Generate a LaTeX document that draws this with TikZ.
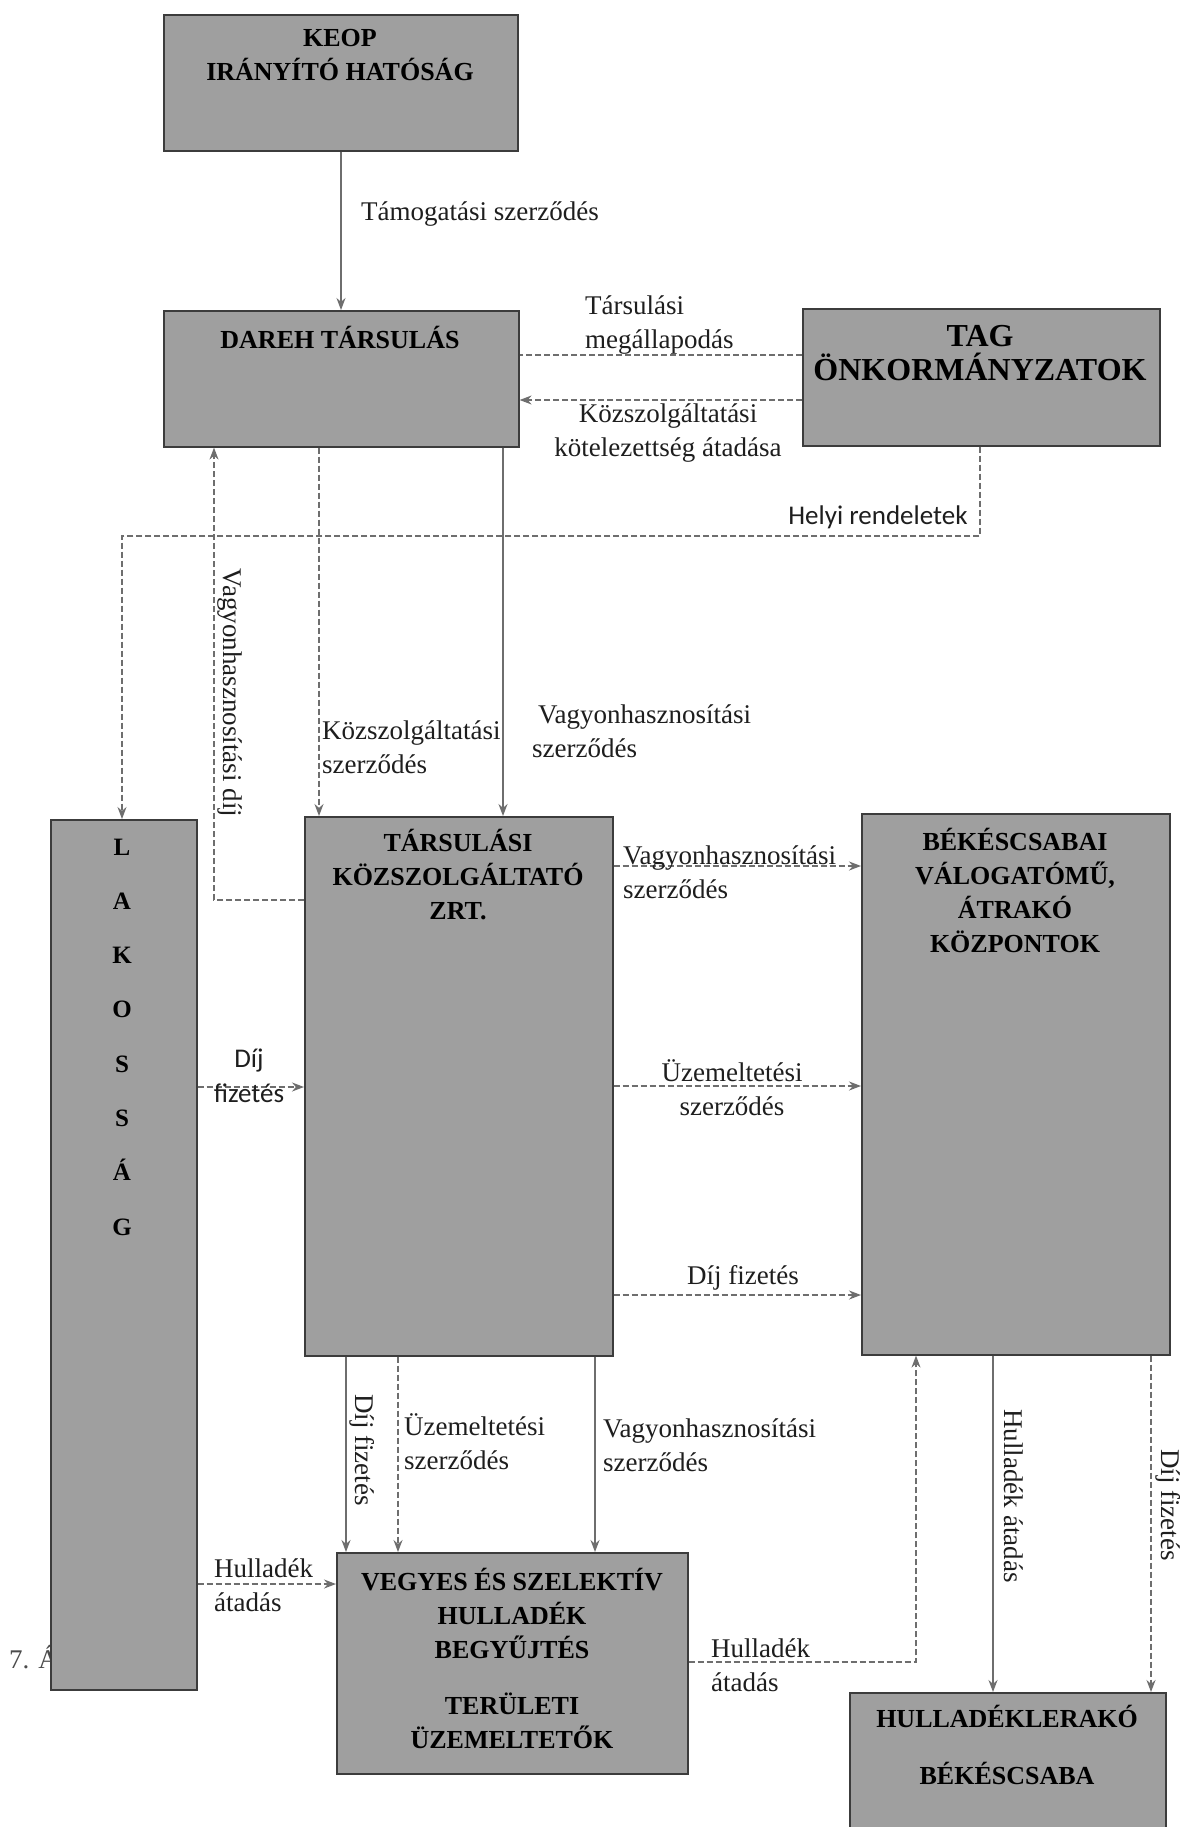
\documentclass[tikz,border=0pt]{standalone}
\usepackage{fontspec}
\setmainfont{Liberation Serif}
\newfontfamily\calib{Carlito}
\usetikzlibrary{arrows.meta}
\definecolor{boxfill}{HTML}{9F9F9F}
\definecolor{boxline}{HTML}{3C3C3C}
\definecolor{linegray}{HTML}{6E6E6E}
\definecolor{txt}{HTML}{1E1E1E}
\begin{document}
\begin{tikzpicture}[x=1pt,y=-1pt,
  box/.style={draw=boxline, line width=1.6pt, fill=boxfill, anchor=north west, inner sep=0pt},
  ttl/.style={font=\bfseries\fontsize{26}{34}\selectfont, align=center, text=black, inner sep=0pt},
  lbl/.style={font=\fontsize{27}{34}\selectfont, text=txt, inner sep=0pt},
  lsans/.style={font=\calib\fontsize{27}{35}\selectfont, text=txt, inner sep=0pt},
  conn/.style={draw=linegray, line width=1.3pt, -{Stealth[length=12pt,width=9pt]}},
  dconn/.style={conn, dash pattern=on 6pt off 3pt},
  dline/.style={draw=linegray, line width=1.3pt, dash pattern=on 6pt off 3pt}]
\useasboundingbox (0,0) rectangle (1186,1827);
\clip (0,0) rectangle (1186,1827);
\fill[white] (0,0) rectangle (1186,1827);

% helper coordinates
\coordinate (h1) at (0,355);
\coordinate (h2) at (0,400);
\coordinate (h3) at (0,536);
\coordinate (h4) at (0,900);
\coordinate (h5) at (0,1087);
\coordinate (h6) at (0,866);
\coordinate (h7) at (0,1086);
\coordinate (h8) at (0,1295);
\coordinate (h9) at (0,1584);
\coordinate (h10) at (0,1662);
\coordinate (v1) at (341,0);
\coordinate (v2) at (980,0);
\coordinate (v3) at (122,0);
\coordinate (v4) at (319,0);
\coordinate (v5) at (503,0);
\coordinate (v6) at (214,0);
\coordinate (v7) at (346,0);
\coordinate (v8) at (398,0);
\coordinate (v9) at (595,0);
\coordinate (v10) at (916,0);
\coordinate (v11) at (993,0);
\coordinate (v12) at (1151,0);

% caption fragment (covered by box)
\node[lbl, anchor=west, text=black!70] (cap) at (9,1657) {7. Á};

% boxes
\node[box, minimum width=354pt, minimum height=136pt] (keop) at (163,14) {};
\node[ttl] (keopT) at (340,55) {KEOP\\IRÁNYÍTÓ HATÓSÁG};
\node[box, minimum width=355pt, minimum height=136pt] (dareh) at (163,310) {};
\node[ttl] (darehT) at (340,337) {DAREH TÁRSULÁS};
\node[box, minimum width=357pt, minimum height=137pt] (tag) at (802,308) {};
\node[ttl, font=\bfseries\fontsize{32}{34}\selectfont] (tagT) at (980,353) {TAG\\ÖNKORMÁNYZATOK};
\node[box, minimum width=146pt, minimum height=870pt] (lak) at (50,819) {};
\node[ttl, font=\bfseries\fontsize{25}{54.3}\selectfont] (lakT) at (122,1037) {L\\A\\K\\O\\S\\S\\Á\\G};
\node[box, minimum width=308pt, minimum height=539pt] (zrt) at (304,816) {};
\node[ttl] (zrtT) at (458,875) {TÁRSULÁSI\\KÖZSZOLGÁLTATÓ\\ZRT.};
\node[box, minimum width=308pt, minimum height=541pt] (bek) at (861,813) {};
\node[ttl] (bekT) at (1015,890) {BÉKÉSCSABAI\\VÁLOGATÓMŰ,\\ÁTRAKÓ\\KÖZPONTOK};
\node[box, minimum width=351pt, minimum height=221pt] (vegyes) at (336,1552) {};
\node[ttl] (vegyesT) at (512,1658) {VEGYES ÉS SZELEKTÍV\\HULLADÉK\\BEGYŰJTÉS\\[22pt]TERÜLETI\\ÜZEMELTETŐK};
\node[box, minimum width=316pt, minimum height=160pt] (lerako) at (849,1692) {};
\node[ttl] (lerakoT) at (1007,1745) {HULLADÉKLERAKÓ\\[23pt]BÉKÉSCSABA};

% connectors
\draw[conn] (keop.south -| v1) -- (dareh.north -| v1);
\draw[dline] (tag.west |- h1) -- (dareh.east |- h1);
\draw[dconn] (tag.west |- h2) -- (dareh.east |- h2);
\draw[dconn] (tag.south -| v2) -- (v2 |- h3) -- (v3 |- h3) -- (lak.north -| v3);
\draw[dconn] (dareh.south -| v4) -- (zrt.north -| v4);
\draw[conn] (dareh.south -| v5) -- (zrt.north -| v5);
\draw[dconn] (zrt.west |- h4) -- (v6 |- h4) -- (dareh.south -| v6);
\draw[dconn] (lak.east |- h5) -- (zrt.west |- h5);
\draw[dconn] (zrt.east |- h6) -- (bek.west |- h6);
\draw[dconn] (zrt.east |- h7) -- (bek.west |- h7);
\draw[dconn] (zrt.east |- h8) -- (bek.west |- h8);
\draw[conn] (zrt.south -| v7) -- (vegyes.north -| v7);
\draw[dconn] (zrt.south -| v8) -- (vegyes.north -| v8);
\draw[conn] (zrt.south -| v9) -- (vegyes.north -| v9);
\draw[dconn] (lak.east |- h9) -- (vegyes.west |- h9);
\draw[dconn] (vegyes.east |- h10) -- (v10 |- h10) -- (bek.south -| v10);
\draw[conn] (bek.south -| v11) -- (lerako.north -| v11);
\draw[dconn] (bek.south -| v12) -- (lerako.north -| v12);

% labels
\node[lbl, anchor=west] (l1) at (361,214) {Támogatási szerződés};
\node[lbl, anchor=west, align=left] (l2) at (585,325) {Társulási\\megállapodás};
\node[lbl, align=center] (l3) at (668,433) {Közszolgáltatási\\kötelezettség átadása};
\node[lsans] (l4) at (878,517) {Helyi rendeletek};
\node[lbl, anchor=west, align=left] (l5) at (322,747) {Közszolgáltatási\\szerződés};
\node[lbl, anchor=west, align=left] (l6) at (532,731) {\hspace*{6pt}Vagyonhasznosítási\\szerződés};
\node[lbl, rotate=-90] (l7) at (230,693) {Vagyonhasznosítási díj};
\node[lsans, align=center] (l8) at (249,1076) {Díj\\fizetés};
\node[lbl, anchor=west, align=left] (l9) at (623,872) {Vagyonhasznosítási\\szerződés};
\node[lbl, align=center] (l10) at (732,1088) {Üzemeltetési\\szerződés};
\node[lbl] (l11) at (743,1278) {Díj fizetés};
\node[lbl, rotate=-90] (l12) at (362,1450) {Díj fizetés};
\node[lbl, anchor=west, align=left] (l13) at (404,1442) {Üzemeltetési\\szerződés};
\node[lbl, anchor=west, align=left] (l14) at (603,1445) {Vagyonhasznosítási\\szerződés};
\node[lbl, anchor=west, align=left] (l15) at (214,1585) {Hulladék\\átadás};
\node[lbl, anchor=west, align=left] (l16) at (711,1665) {Hulladék\\átadás};
\node[lbl, rotate=-90] (l17) at (1014,1496) {Hulladék átadás};
\node[lbl, rotate=-90] (l18) at (1168,1505) {Díj fizetés};
\end{tikzpicture}
\end{document}
